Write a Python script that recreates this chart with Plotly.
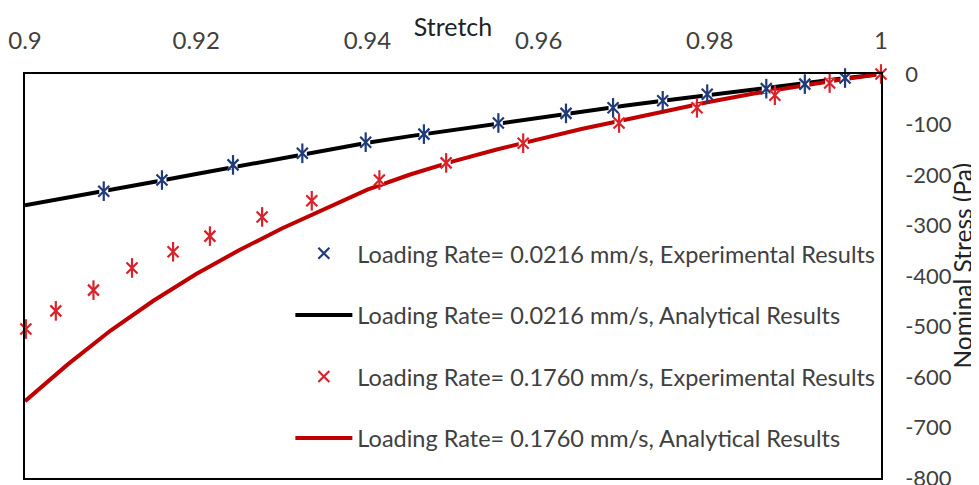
import plotly.graph_objects as go

# ---- data ----
line_x = [0.900, 0.905, 0.910, 0.915, 0.920, 0.925, 0.930, 0.935, 0.940, 0.945,
          0.950, 0.955, 0.960, 0.965, 0.970, 0.975, 0.980, 0.985, 0.990, 0.995, 1.000]
analytic_slow = [-260, -245, -230, -214, -198, -182, -166, -151, -136, -123,
                 -111, -99, -87, -74, -63, -52, -41, -30, -20, -10, 0]
analytic_fast = [-648, -575, -508, -449, -396, -349, -306, -268, -229, -199,
                 -173, -150, -129, -109, -91, -72, -55, -39, -25, -12, 0]

exp_slow_x = [0.9092, 0.9160, 0.9243, 0.9324, 0.9398, 0.9466, 0.9553, 0.9632,
              0.9687, 0.9745, 0.9797, 0.9866, 0.9911, 0.9958]
exp_slow_y = [-232, -210, -180, -157, -135, -119, -97, -78, -67, -53, -40, -29, -20, -8]

exp_fast_x = [0.9001, 0.9036, 0.9080, 0.9125, 0.9173, 0.9216, 0.9277, 0.9335,
              0.9414, 0.9492, 0.9582, 0.9694, 0.9785, 0.9876, 0.9940, 1.0000]
exp_fast_y = [-505, -469, -428, -384, -352, -321, -283, -251, -210, -176,
              -137, -97, -67, -42, -18, 0]

x_ticks = [0.9, 0.92, 0.94, 0.96, 0.98, 1.0]
x_tick_labels = ["0.9", "0.92", "0.94", "0.96", "0.98", "1"]
y_ticks = [0, -100, -200, -300, -400, -500, -600, -700, -800]
y_tick_labels = ["0", "-100", "-200", "-300", "-400", "-500", "-600", "-700", "-800"]

names = [
    "Loading Rate= 0.0216 mm/s, Experimental Results",
    "Loading Rate= 0.0216 mm/s, Analytical Results",
    "Loading Rate= 0.1760 mm/s, Experimental Results",
    "Loading Rate= 0.1760 mm/s, Analytical Results",
]
x_title = "Stretch"
y_title = "Nominal Stress (Pa)"

BLUE = "#1f3b7a"
RED = "#d9232b"
LINE_RED = "#c00000"

fig = go.Figure()

fig.add_trace(go.Scatter(x=line_x, y=analytic_slow, mode="lines", name=names[1],
                         line=dict(color="black", width=4), legendgroup="b", legendrank=2))
fig.add_trace(go.Scatter(x=line_x, y=analytic_fast, mode="lines", name=names[3],
                         line=dict(color=LINE_RED, width=4), legendgroup="d", legendrank=4))


def add_markers(xs, ys, color, name, group, rank):
    fig.add_trace(go.Scatter(x=xs, y=ys, mode="markers", showlegend=False, legendgroup=group,
                             hoverinfo="skip", cliponaxis=False,
                             marker=dict(symbol="square", size=9, color="white", line=dict(width=0))))
    fig.add_trace(go.Scatter(x=xs, y=ys, mode="markers", name=name, legendgroup=group, legendrank=rank,
                             cliponaxis=False,
                             marker=dict(symbol="x-thin-open", size=11, color=color,
                                         line=dict(color=color, width=2.2))))
    fig.add_trace(go.Scatter(x=xs, y=ys, mode="markers", showlegend=False, legendgroup=group,
                             hoverinfo="skip", cliponaxis=False,
                             marker=dict(symbol="line-ns-open", size=14, color=color,
                                         line=dict(color=color, width=2.2))))


add_markers(exp_slow_x, exp_slow_y, BLUE, names[0], "a", 1)
add_markers(exp_fast_x, exp_fast_y, RED, names[2], "c", 3)

FONT = "Lato, 'Open Sans', sans-serif"
TXT = "#404040"

# the page body adds an 8px offset, so the figure is 8px smaller than the window
W, H = 971, 477

fig.update_layout(
    width=W, height=H,
    margin=dict(l=17, r=98, t=66, b=7),
    paper_bgcolor="white", plot_bgcolor="white",
    font=dict(family=FONT, color=TXT, size=22),
    title=dict(text=x_title, x=0.5, xref="paper", xanchor="center",
               y=1 - 19 / H, yref="container", yanchor="middle",
               font=dict(size=25, color="#222222", family=FONT)),
    showlegend=True,
    legend=dict(x=0.310, y=0.61, xanchor="left", yanchor="top",
                bgcolor="rgba(0,0,0,0)", font=dict(size=23.5, color=TXT, family=FONT),
                tracegroupgap=28, itemwidth=57, traceorder="grouped"),
    xaxis=dict(range=[0.9, 1.0], side="top", tickvals=x_ticks, ticktext=x_tick_labels,
               showgrid=False, zeroline=False, showline=True, linecolor="black", linewidth=1.5,
               mirror=True, ticks="", ticklabelstandoff=14, automargin=False,
               tickfont=dict(size=24, color=TXT)),
    yaxis=dict(range=[-800, 0], side="right", tickvals=y_ticks, ticktext=y_tick_labels,
               showgrid=False, zeroline=False, showline=True, linecolor="black", linewidth=1.5,
               mirror=True, ticks="", ticklabelstandoff=18, automargin=False,
               ticklabeloverflow="allow",
               tickfont=dict(size=22, color=TXT)),
    annotations=[dict(text=y_title, textangle=-90, xref="paper", yref="paper",
                      x=1.0952, y=0.527, xanchor="center", yanchor="middle", showarrow=False,
                      font=dict(size=24.5, color="#222222", family=FONT))],
)

fig.write_html("out.html")
